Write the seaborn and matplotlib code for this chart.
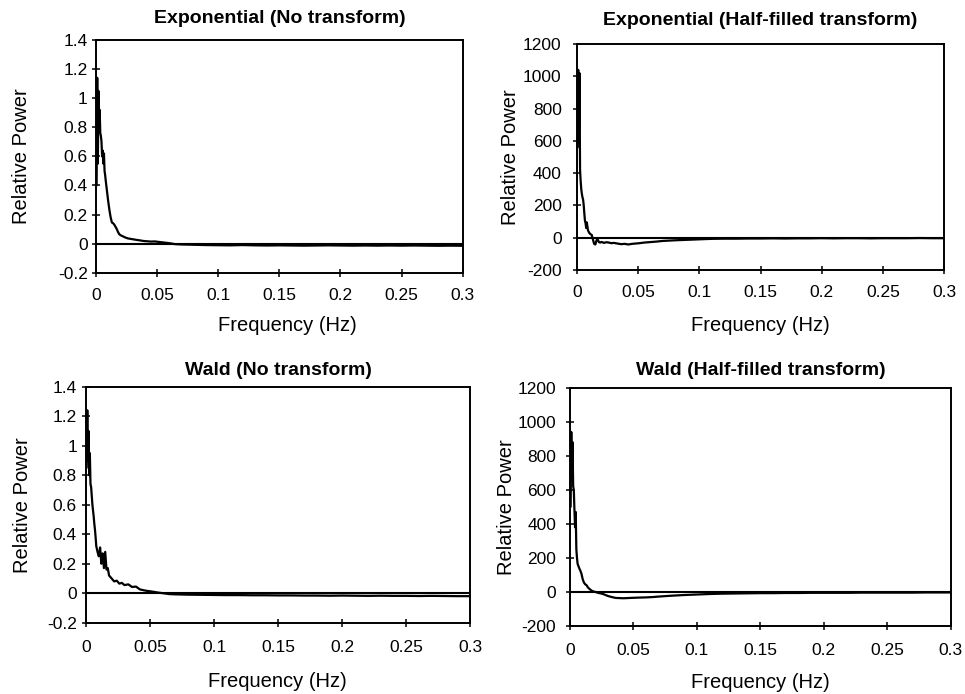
import matplotlib
matplotlib.use("Agg")
import matplotlib.pyplot as plt
import seaborn as sns

# ---------------- data ----------------
freq_hz = [0.0005, 0.001, 0.0015, 0.002, 0.0025, 0.003, 0.0035, 0.004, 0.0045, 0.005,
           0.0055, 0.006, 0.0065, 0.007, 0.0075, 0.008, 0.009, 0.010, 0.011, 0.012,
           0.013, 0.014, 0.015, 0.016, 0.017, 0.018, 0.019, 0.020, 0.022, 0.024,
           0.026, 0.028, 0.030, 0.033, 0.036, 0.039, 0.042, 0.045, 0.048, 0.051,
           0.055, 0.060, 0.065, 0.070, 0.080, 0.090, 0.10, 0.11, 0.12, 0.13,
           0.14, 0.15, 0.16, 0.17, 0.18, 0.19, 0.20, 0.21, 0.22, 0.23,
           0.24, 0.25, 0.26, 0.27, 0.28, 0.29, 0.30]

exp_no_transform = [0.40, 1.14, 0.55, 1.05, 0.80, 0.92, 0.76, 0.74, 0.70, 0.60,
                    0.64, 0.55, 0.62, 0.50, 0.47, 0.43, 0.36, 0.29, 0.23, 0.18,
                    0.145, 0.14, 0.13, 0.115, 0.10, 0.08, 0.065, 0.058, 0.05, 0.042,
                    0.036, 0.033, 0.030, 0.026, 0.022, 0.018, 0.016, 0.014, 0.015, 0.012,
                    0.008, 0.003, -0.004, -0.006, -0.008, -0.010, -0.011, -0.012, -0.010, -0.012,
                    -0.013, -0.012, -0.013, -0.014, -0.013, -0.012, -0.013, -0.014, -0.013, -0.014,
                    -0.013, -0.014, -0.013, -0.014, -0.015, -0.014, -0.015]

exp_half_filled = [560, 1040, 600, 1020, 420, 350, 300, 270, 250, 235,
                   200, 150, 105, 90, 60, 95, 45, 30, 22, 18,
                   -10, -38, -42, -15, -12, -28, -30, -26, -32, -28,
                   -30, -34, -32, -36, -40, -38, -42, -38, -36, -34,
                   -30, -27, -24, -20, -16, -13, -10, -7, -6, -6,
                   -5, -5, -4, -5, -4, -4, -3, -4, -3, -3,
                   -4, -3, -3, -3, -2, -3, -3]

wald_no_transform = [0.85, 1.24, 0.90, 1.10, 0.80, 0.95, 0.74, 0.72, 0.66, 0.60,
                     0.56, 0.52, 0.47, 0.43, 0.38, 0.32, 0.28, 0.25, 0.31, 0.20,
                     0.27, 0.17, 0.28, 0.16, 0.17, 0.12, 0.11, 0.10, 0.08, 0.085,
                     0.065, 0.07, 0.055, 0.06, 0.042, 0.045, 0.026, 0.02, 0.015, 0.012,
                     0.006, 0.0, -0.006, -0.008, -0.010, -0.011, -0.012, -0.013, -0.013, -0.014,
                     -0.014, -0.015, -0.015, -0.016, -0.016, -0.017, -0.016, -0.017, -0.018, -0.017,
                     -0.018, -0.018, -0.019, -0.018, -0.019, -0.020, -0.020]

wald_half_filled = [500, 940, 700, 880, 620, 600, 480, 380, 470, 250,
                    200, 165, 155, 145, 135, 128, 108, 75, 55, 45,
                    40, 28, 20, 14, 8, 4, 2, 0, -5, -8,
                    -12, -18, -24, -30, -35, -36, -37, -36, -35, -34,
                    -33, -32, -30, -27, -22, -18, -15, -12, -10, -9,
                    -8, -7, -7, -6, -6, -5, -5, -5, -5, -4,
                    -4, -4, -4, -4, -3, -3, -3]

panel_titles = ["Exponential (No transform)", "Exponential (Half-filled transform)",
                "Wald (No transform)", "Wald (Half-filled transform)"]

x_ticks = [0, 0.05, 0.1, 0.15, 0.2, 0.25, 0.3]
x_tick_labels = ["0", "0.05", "0.1", "0.15", "0.2", "0.25", "0.3"]
y_ticks_small = [-0.2, 0, 0.2, 0.4, 0.6, 0.8, 1.0, 1.2, 1.4]
y_tick_labels_small = ["-0.2", "0", "0.2", "0.4", "0.6", "0.8", "1", "1.2", "1.4"]
y_ticks_big = [-200, 0, 200, 400, 600, 800, 1000, 1200]
y_tick_labels_big = ["-200", "0", "200", "400", "600", "800", "1000", "1200"]

x_label = "Frequency (Hz)"
y_label = "Relative Power"

# ---------------- style ----------------
sns.set_theme(style="white")
plt.rcParams["font.family"] = ["Liberation Sans", "DejaVu Sans"]

fig = plt.figure(figsize=(9.65, 6.94), dpi=100)

W, H = 965.0, 694.0
# pixel boxes: left, top, right, bottom
boxes = [(96, 40, 462.7, 272.7),
         (577, 44, 944, 270),
         (86, 386.7, 470.3, 622.7),
         (570, 387.7, 950.7, 626)]
series = [exp_no_transform, exp_half_filled, wald_no_transform, wald_half_filled]
small_scale = [True, False, True, False]
title_pads = [12.5, 14, 8.5, 9.5]
ylabel_x = [-0.177, -0.155, -0.1405, -0.142]
xlabel_pos = [(0.521, -0.185), (0.499, -0.203), (0.497, -0.208), (0.499, -0.197)]
ytick_pads = [3, 8, 3.5, 7]
xtick_pads = [8, 8, 9.5, 9.5]

for i in range(4):
    l, t, r, b = boxes[i]
    ax = fig.add_axes([l / W, 1 - b / H, (r - l) / W, (b - t) / H])
    sns.lineplot(x=freq_hz, y=series[i], ax=ax, color="black", linewidth=1.6,
                 estimator=None, sort=False)
    ax.axhline(0, color="black", linewidth=1.5, zorder=1)
    ax.set_xlim(0, 0.3)
    ax.set_xticks(x_ticks)
    ax.set_xticklabels(x_tick_labels)
    if small_scale[i]:
        ax.set_ylim(-0.2, 1.4)
        ax.set_yticks(y_ticks_small)
        ax.set_yticklabels(y_tick_labels_small)
    else:
        ax.set_ylim(-200, 1200)
        ax.set_yticks(y_ticks_big)
        ax.set_yticklabels(y_tick_labels_big)
    for sp in ax.spines.values():
        sp.set_color("black")
        sp.set_linewidth(1.4)
        sp.set_visible(True)
    ax.tick_params(axis="both", which="major", direction="inout", length=6,
                   width=1.1, color="black", labelsize=12.5, labelcolor="black",
                   bottom=True, left=True)
    ax.tick_params(axis="y", pad=ytick_pads[i])
    ax.tick_params(axis="x", pad=xtick_pads[i])
    ax.set_title(panel_titles[i], fontsize=14, fontweight="bold", color="black",
                 pad=title_pads[i])
    ax.set_xlabel(x_label, fontsize=14.5, color="black")
    ax.set_ylabel(y_label, fontsize=14.5, color="black")
    ax.yaxis.set_label_coords(ylabel_x[i], 0.5)
    ax.xaxis.set_label_coords(*xlabel_pos[i])
    ax.grid(False)

fig.savefig("out.png", dpi=100, facecolor="white")
